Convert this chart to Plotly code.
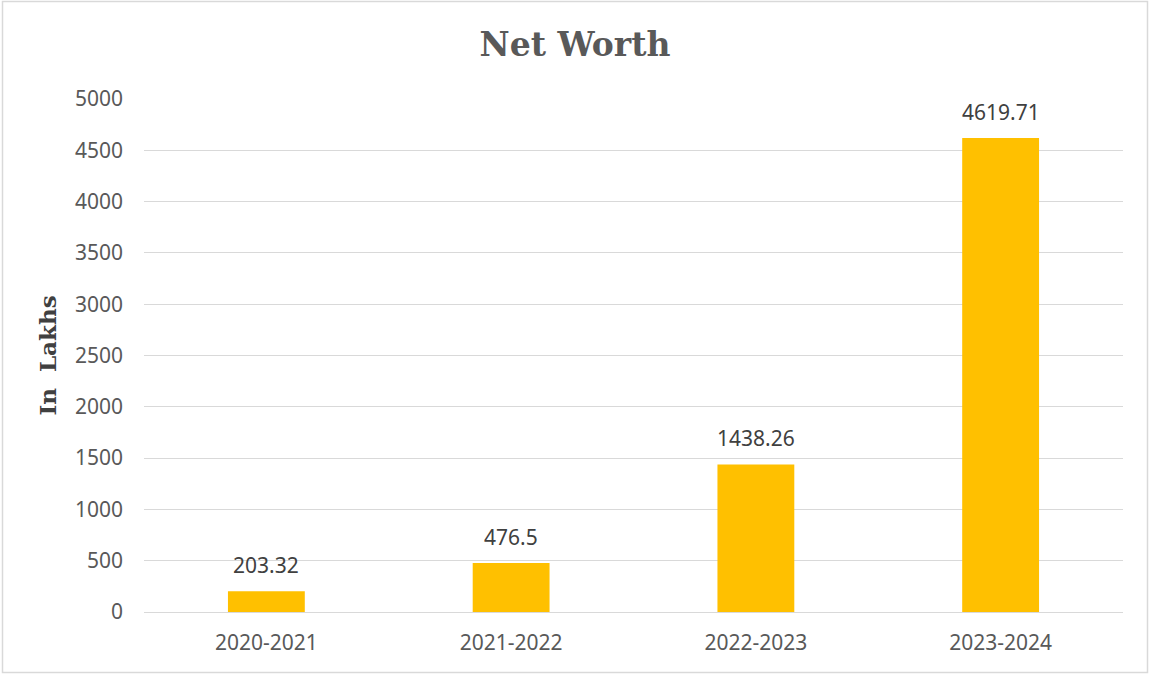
import plotly.graph_objects as go

categories = ["2020-2021", "2021-2022", "2022-2023", "2023-2024"]
values = [203.32, 476.5, 1438.26, 4619.71]
value_labels = ["203.32", "476.5", "1438.26", "4619.71"]
y_ticks = [0, 500, 1000, 1500, 2000, 2500, 3000, 3500, 4000, 4500, 5000]

W, H = 1150, 676
L, R, T, B = 144, 27, 99, 64
pw, ph = W - L - R, H - T - B

def px_x(p):
    return (p - L) / pw

def px_y(p):
    return (H - B - p) / ph

fig = go.Figure()
fig.add_trace(go.Bar(
    x=categories, y=values,
    marker=dict(color="#FFC000", line=dict(width=0)),
    hoverinfo="skip",
))

for c, v, t in zip(categories, values, value_labels):
    fig.add_annotation(x=c, y=v, text=t, showarrow=False, yanchor="bottom", yshift=10,
                       font=dict(family="Noto Sans", size=21, color="#404040"))

fig.update_layout(
    width=W, height=H,
    margin=dict(l=L, r=R, t=T, b=B),
    paper_bgcolor="white", plot_bgcolor="white",
    bargap=0.686,
    showlegend=False,
    title=dict(text="<b>Net Worth</b>", x=0.5, xanchor="center", y=1 - 44 / H, yanchor="middle",
               font=dict(family="DejaVu Serif", size=33, color="#595959")),
    xaxis=dict(showgrid=False, showline=False, ticks="", ticklabelstandoff=16,
               tickfont=dict(family="Noto Sans", size=21, color="#595959")),
    yaxis=dict(range=[0, 5000], tickvals=y_ticks, showgrid=True, gridcolor="#D9D9D9", gridwidth=1,
               zeroline=True, zerolinecolor="#D9D9D9", zerolinewidth=1, showline=False, ticks="",
               ticklabelstandoff=20,
               tickfont=dict(family="Noto Sans", size=21, color="#595959"),
               title=dict(text="<b>In  Lakhs</b>", standoff=11,
                          font=dict(family="DejaVu Serif", size=23, color="#404040"))),
)

fig.add_shape(type="rect", xref="paper", yref="paper",
              x0=px_x(2.5), x1=px_x(1147.5), y0=px_y(672.5), y1=px_y(1.5),
              line=dict(color="#D9D9D9", width=1.5), layer="below")

fig.write_html("out.html", config={"displayModeBar": False},
               post_script="document.body.style.margin='0';document.body.style.overflow='hidden';")
